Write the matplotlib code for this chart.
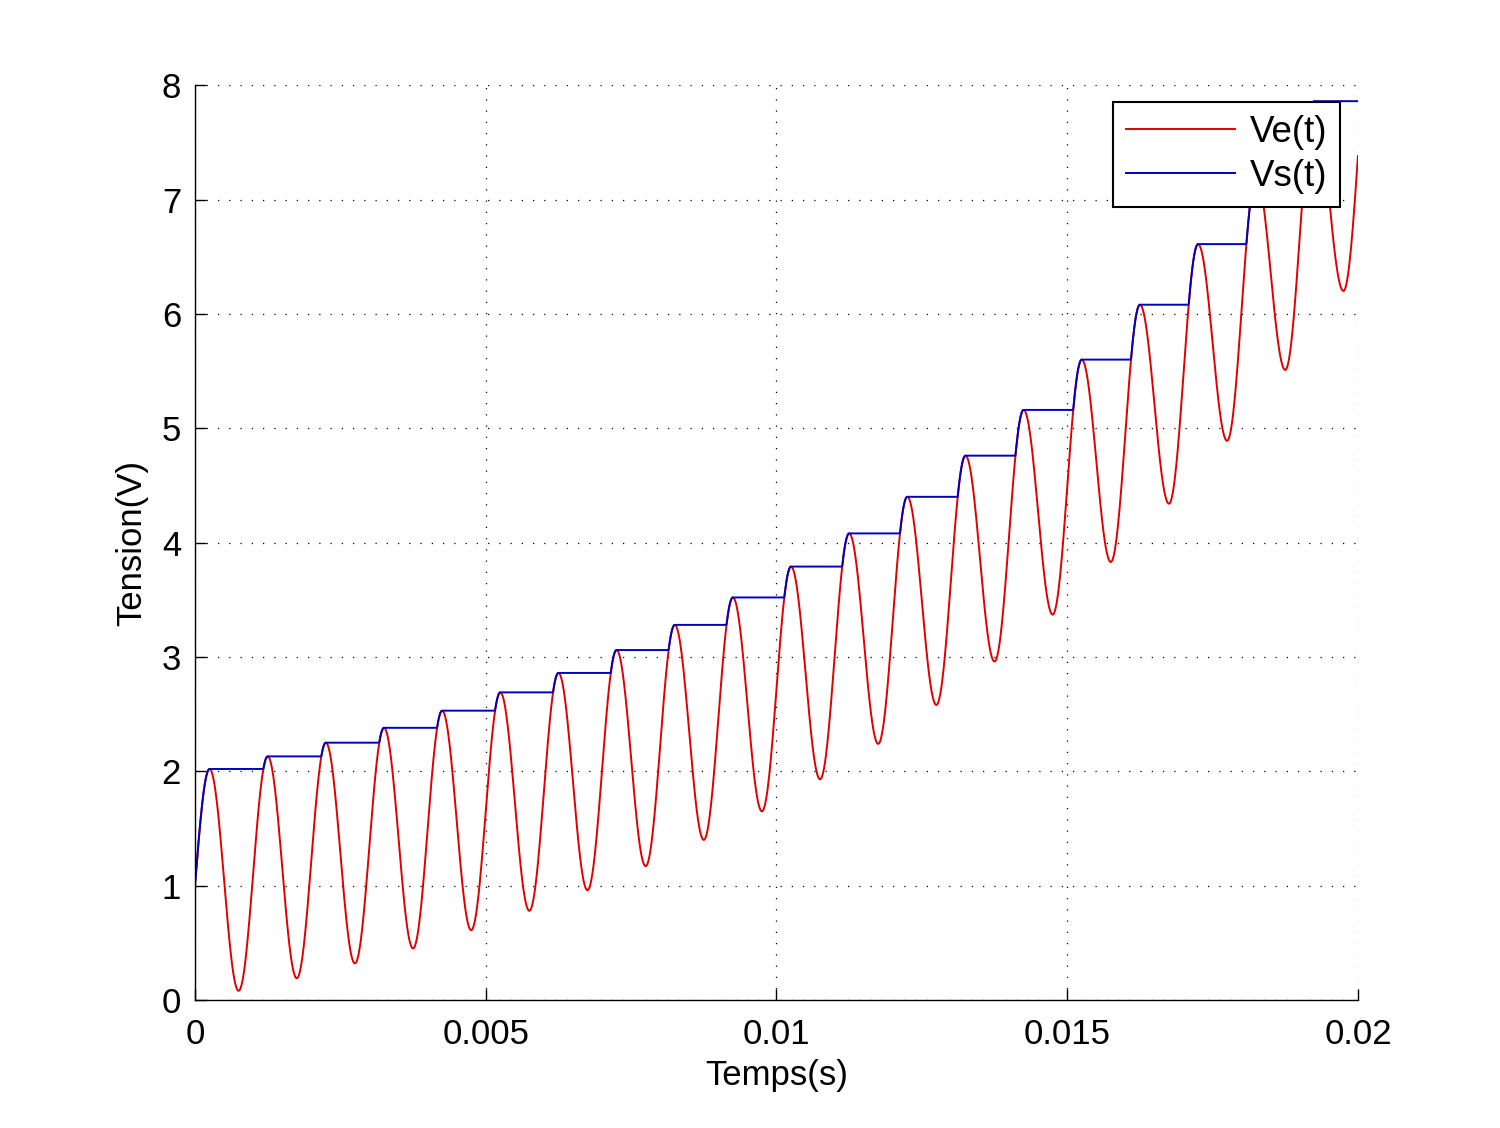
import numpy as np
import matplotlib
matplotlib.use('Agg')
import matplotlib.pyplot as plt

# --- valeurs : extremums de Ve(t) ---
# instants (s) : départ, crêtes/creux alternés (période 1 ms), fin
t_points = [0.0, 0.00025, 0.00075, 0.00125, 0.00175, 0.00225, 0.00275, 0.00325,
            0.00375, 0.00425, 0.00475, 0.00525, 0.00575, 0.00625, 0.00675,
            0.00725, 0.00775, 0.00825, 0.00875, 0.00925, 0.00975, 0.01025,
            0.01075, 0.01125, 0.01175, 0.01225, 0.01275, 0.01325, 0.01375,
            0.01425, 0.01475, 0.01525, 0.01575, 0.01625, 0.01675, 0.01725,
            0.01775, 0.01825, 0.01875, 0.01925, 0.01975, 0.02]
v_points = [1.00, 2.02, 0.08, 2.13, 0.19, 2.25, 0.32, 2.38,
            0.45, 2.53, 0.61, 2.69, 0.78, 2.86, 0.96,
            3.06, 1.17, 3.28, 1.40, 3.52, 1.65, 3.79,
            1.93, 4.08, 2.24, 4.40, 2.58, 4.76, 2.96,
            5.16, 3.37, 5.60, 3.83, 6.08, 4.34, 6.61,
            4.89, 7.20, 5.51, 7.86, 6.20, 7.38]

# --- tracé de Ve(t) entre les extremums (forme sinusoïdale) ---
t_list, v_list = [], []
n = len(t_points)
for i in range(n - 1):
    a, b = v_points[i], v_points[i + 1]
    s = np.linspace(0, 1, 60, endpoint=False)
    if i == 0:
        w = np.sin(np.pi / 2 * s)          # milieu -> crête
    elif i == n - 2:
        w = 1 - np.cos(np.pi / 2 * s)      # creux -> milieu
    else:
        w = (1 - np.cos(np.pi * s)) / 2    # crête <-> creux
    t_list.append(t_points[i] + (t_points[i + 1] - t_points[i]) * s)
    v_list.append(a + (b - a) * w)
t_list.append([t_points[-1]])
v_list.append([v_points[-1]])
t = np.concatenate(t_list)
ve = np.concatenate(v_list)

# Vs(t) : détecteur de crête
vs = np.maximum.accumulate(ve)

plt.rcParams['font.family'] = ['Liberation Sans', 'DejaVu Sans']

fig = plt.figure(figsize=(15, 11.28), dpi=100)
ax = fig.add_axes([0.13, 0.1135, 0.7753, 0.811])

ax.plot(t, ve, color='#e00000', lw=1.4, label='Ve(t)')
ax.plot(t, vs, color='#0000c0', lw=1.4, label='Vs(t)')

ax.set_xlim(0, 0.02)
ax.set_ylim(0, 8)
ax.set_xticks([0, 0.005, 0.01, 0.015, 0.02])
ax.set_xticklabels(['0', '0.005', '0.01', '0.015', '0.02'])
ax.set_yticks(range(9))

ax.grid(True, color='black', linestyle=(0, (1, 8)), linewidth=0.9)
ax.spines['top'].set_visible(False)
ax.spines['right'].set_visible(False)
ax.spines['left'].set_linewidth(1.0)
ax.spines['bottom'].set_linewidth(1.0)
ax.tick_params(direction='in', length=8, width=1.0, labelsize=25)
ax.tick_params(axis='x', pad=13)
ax.tick_params(axis='y', pad=10)

ax.set_xlabel('Temps(s)', fontsize=25, labelpad=6)
ax.set_ylabel('Tension(V)', fontsize=25, labelpad=10)

leg = ax.legend(loc='upper right', fontsize=26.5, fancybox=False, framealpha=1,
                edgecolor='black', borderpad=0.35, handlelength=2.95,
                handletextpad=0.4, labelspacing=0.25, borderaxespad=0,
                bbox_to_anchor=(0.9845, 0.9814))
leg.get_frame().set_linewidth(1.5)

fig.savefig('out.png', dpi=100)
